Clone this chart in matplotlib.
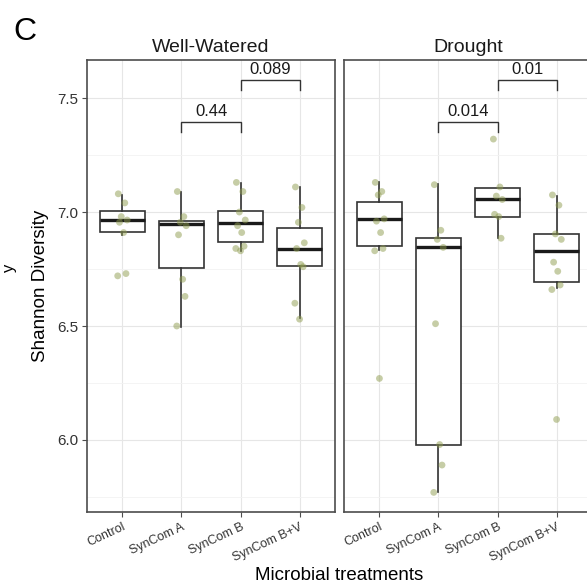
import numpy as np
import matplotlib.pyplot as plt

plt.rcParams['font.family'] = ['Liberation Sans', 'DejaVu Sans']

categories = ['Control', 'SynCom A', 'SynCom B', 'SynCom B+V']
panel_titles = ['Well-Watered', 'Drought']

# Well-Watered: samples and box stats
ww_points = [
    [7.08, 7.04, 6.98, 6.965, 6.955, 6.91, 6.73, 6.72],
    [7.09, 6.98, 6.955, 6.94, 6.90, 6.705, 6.63, 6.50],
    [7.13, 7.09, 7.00, 6.965, 6.94, 6.91, 6.85, 6.84, 6.83],
    [7.11, 7.02, 6.955, 6.865, 6.84, 6.77, 6.76, 6.60, 6.53],
]
ww_q1 = [6.914, 6.753, 6.868, 6.763]
ww_med = [6.965, 6.946, 6.953, 6.836]
ww_q3 = [7.006, 6.960, 7.006, 6.931]
ww_lo = [6.900, 6.497, 6.830, 6.534]
ww_hi = [7.075, 7.089, 7.129, 7.111]
ww_pvals = ['0.44', '0.089']

# Drought: samples and box stats
dr_points = [
    [7.13, 7.09, 7.075, 6.97, 6.96, 6.91, 6.84, 6.83, 6.27],
    [7.12, 6.92, 6.88, 6.845, 6.51, 5.98, 5.89, 5.77],
    [7.32, 7.11, 7.07, 7.055, 6.99, 6.98, 6.885],
    [7.075, 7.03, 6.904, 6.88, 6.78, 6.74, 6.68, 6.66, 6.09],
]
dr_q1 = [6.852, 5.978, 6.977, 6.693]
dr_med = [6.969, 6.845, 7.057, 6.830]
dr_q3 = [7.042, 6.885, 7.107, 6.904]
dr_lo = [6.833, 5.773, 6.885, 6.665]
dr_hi = [7.133, 7.123, 7.107, 7.070]
dr_pvals = ['0.014', '0.01']

comparisons = [(2, 3), (3, 4)]
bracket_y = [7.395, 7.579]
tip = 0.044

jitter = [-0.07, 0.04, -0.02, 0.08, -0.05, 0.02, 0.06, -0.08, 0.0]

fig = plt.figure(figsize=(5.87, 5.88), dpi=100)
ax_left = fig.add_axes([87 / 587, 1 - 512 / 588, 248 / 587, 452 / 588])
ax_right = fig.add_axes([344 / 587, 1 - 512 / 588, 248 / 587, 452 / 588])

panel_data = [
    (ax_left, ww_points, ww_q1, ww_med, ww_q3, ww_lo, ww_hi, ww_pvals),
    (ax_right, dr_points, dr_q1, dr_med, dr_q3, dr_lo, dr_hi, dr_pvals),
]

box_col = '#333333'
positions = np.arange(1, len(categories) + 1)

for i, (ax, pts, q1, med, q3, lo, hi, pvals) in enumerate(panel_data):
    stats = []
    for k in range(len(categories)):
        stats.append({'med': med[k], 'q1': q1[k], 'q3': q3[k],
                      'whislo': lo[k], 'whishi': hi[k], 'label': categories[k]})
    ax.bxp(stats, positions=positions, widths=0.75, showfliers=False,
           showcaps=False, patch_artist=True,
           boxprops=dict(facecolor='white', edgecolor=box_col, linewidth=1.2),
           medianprops=dict(color='#1a1a1a', linewidth=2.4),
           whiskerprops=dict(color=box_col, linewidth=1.2))

    for k, vals in enumerate(pts):
        xs = positions[k] + np.array(jitter[:len(vals)])
        ax.scatter(xs, vals, s=24, color='#8f9c4f', alpha=0.5,
                   edgecolors='none', zorder=4)

    # significance brackets
    for (a, b), yb, lab in zip(comparisons, bracket_y, pvals):
        ax.plot([a, a, b, b], [yb - tip, yb, yb, yb - tip], color=box_col,
                linewidth=1.0, solid_joinstyle='miter')
        ax.text((a + b) / 2, yb + 0.012, lab, ha='center', va='bottom',
                fontsize=12, color='#1a1a1a')

    ax.set_xlim(0.4, 4.6)
    ax.set_ylim(5.684, 7.667)
    ax.set_yticks([6.0, 6.5, 7.0, 7.5])
    ax.set_yticks([5.75, 6.25, 6.75, 7.25], minor=True)
    ax.set_xticks(positions)
    ax.set_xticklabels(categories, rotation=25, ha='right', va='top',
                       rotation_mode='anchor', fontsize=9, color='#333333')
    ax.set_axisbelow(True)
    ax.grid(which='major', color='#e6e6e6', linewidth=0.8)
    ax.grid(which='minor', axis='y', color='#f2f2f2', linewidth=0.6)
    ax.tick_params(axis='both', which='major', length=3.5, width=0.8,
                   color='#4d4d4d', pad=3)
    ax.tick_params(axis='y', which='minor', length=0)
    for sp in ax.spines.values():
        sp.set_color('#4d4d4d')
        sp.set_linewidth(1.2)
    ax.set_title(panel_titles[i], fontsize=14, color='#1a1a1a', pad=6)

ax_left.set_yticklabels(['6.0', '6.5', '7.0', '7.5'], fontsize=11, color='#333333')
ax_right.tick_params(axis='y', which='both', left=False, labelleft=False)

ax_left.set_ylabel('Shannon Diversity', fontsize=13.5, labelpad=6)
fig.text(339 / 587, 1 - 575 / 588, 'Microbial treatments', fontsize=13.5,
         ha='center', va='center')
fig.text(13 / 587, 1 - 32 / 588, 'C', fontsize=23, ha='left', va='center')
# fragment of a neighbouring panel's label, pulled just inside the edge
fig.text(2 / 587, 1 - 268 / 588, 'y', fontsize=12, rotation=90,
         ha='left', va='center')

fig.savefig('out.png', dpi=100)
